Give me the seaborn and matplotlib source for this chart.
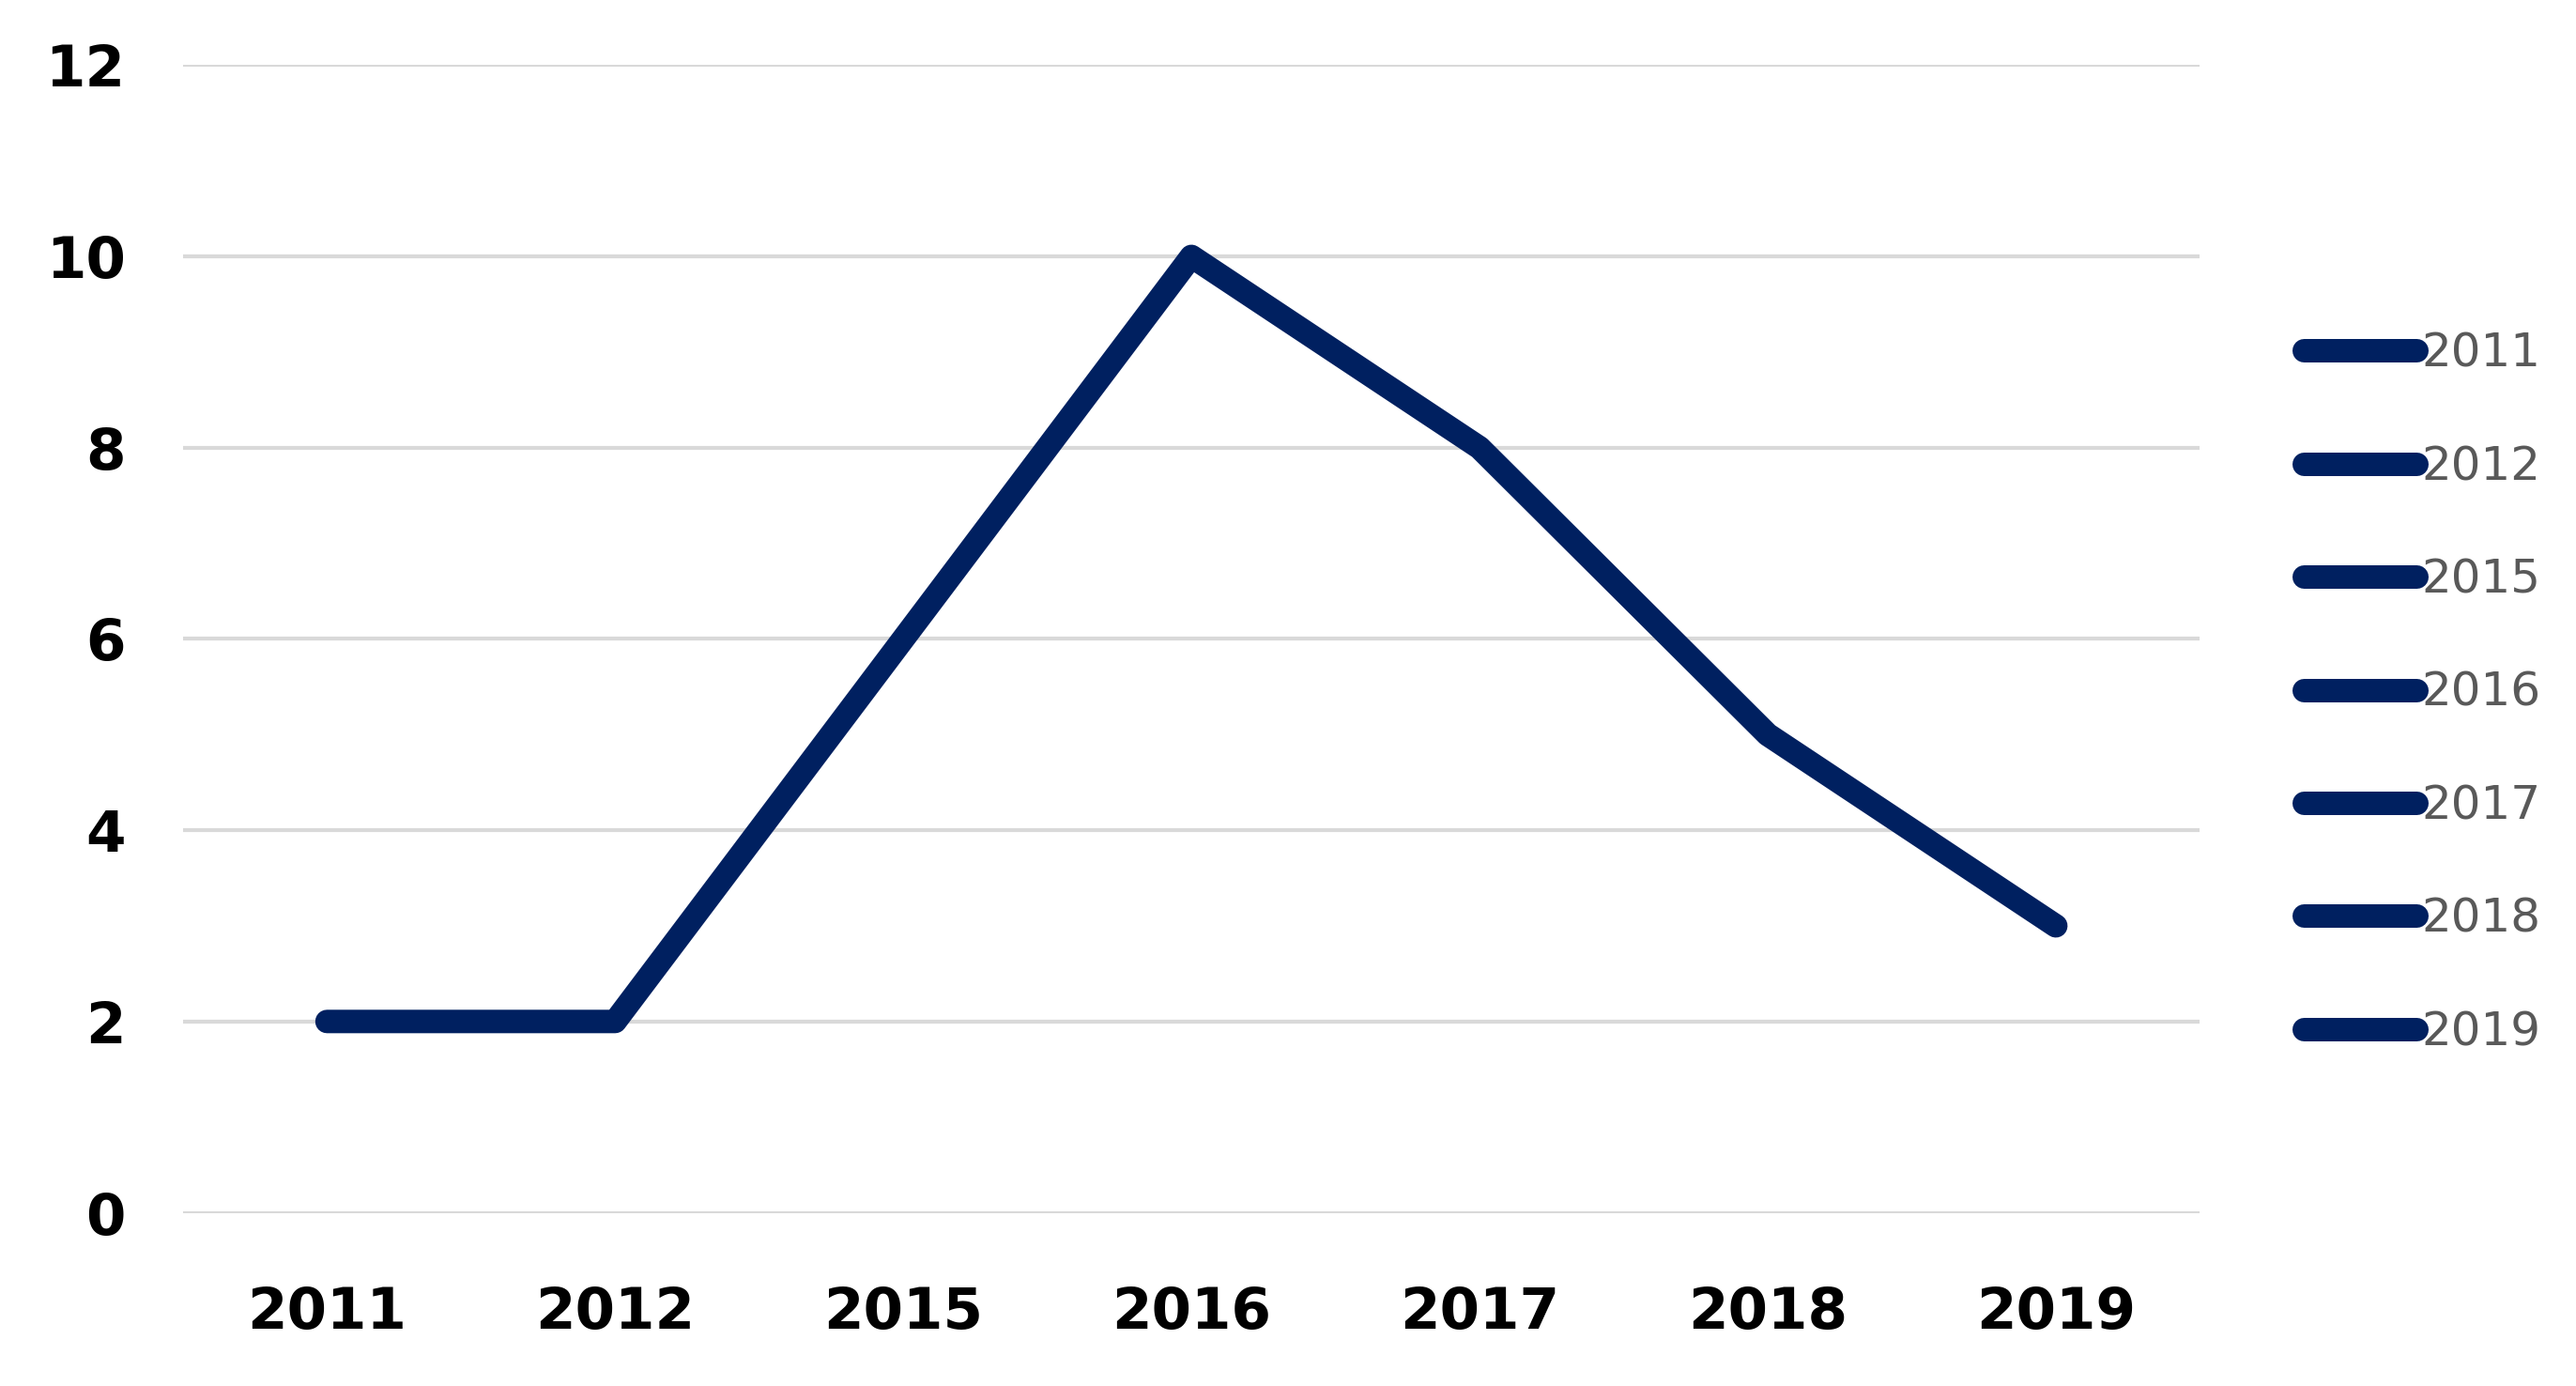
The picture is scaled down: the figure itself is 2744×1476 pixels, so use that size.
import matplotlib
matplotlib.use("Agg")
import matplotlib.pyplot as plt
import seaborn as sns
import pandas as pd
from matplotlib.lines import Line2D

years = ["2011", "2012", "2015", "2016", "2017", "2018", "2019"]
values = [2, 2, 6, 10, 8, 5, 3]
color = "#002060"

sns.set_style("white")
plt.rcParams['font.family'] = ['DejaVu Sans']
fig = plt.figure(figsize=(13.72, 7.38), dpi=200)
ax = fig.add_axes([0.071, 0.125, 0.783, 0.828])
df = pd.DataFrame({"year": years, "value": values})
sns.lineplot(data=df, x="year", y="value", ax=ax, color=color, linewidth=9,
             solid_capstyle="round", solid_joinstyle="round", sort=False)
ax.set_ylim(0, 12)
ax.set_yticks(range(0, 13, 2))
ax.set_xlim(-0.5, 6.5)
ax.grid(axis="y", color="#d9d9d9", linewidth=1.5)
ax.set_axisbelow(True)
for s in ax.spines.values():
    s.set_visible(False)
ax.set_xlabel("")
ax.set_ylabel("")
ax.tick_params(axis="both", length=0, labelsize=22, labelcolor="black")
ax.tick_params(axis="x", pad=28)
ax.tick_params(axis="y", pad=22)
for t in ax.get_xticklabels() + ax.get_yticklabels():
    t.set_fontweight("bold")
handles = [Line2D([0], [0], color=color, linewidth=9, solid_capstyle="round") for _ in years]
fig.legend(handles, years, loc="center left", bbox_to_anchor=(0.878, 0.5),
           frameon=False, fontsize=18, labelcolor="#595959", handlelength=2.4,
           handletextpad=0.1, labelspacing=1.45)
fig.savefig("out.png", dpi=200)
